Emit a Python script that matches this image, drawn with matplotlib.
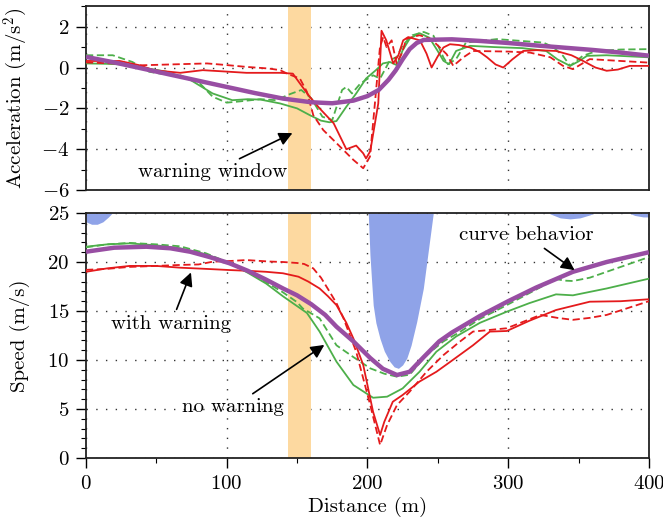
import numpy as np
import matplotlib
matplotlib.use('Agg')
import matplotlib.pyplot as plt
from matplotlib.ticker import MultipleLocator

plt.rcParams['font.family'] = 'serif'
plt.rcParams['font.serif'] = ['cmr10']
plt.rcParams['mathtext.fontset'] = 'cm'
plt.rcParams['axes.formatter.use_mathtext'] = True
plt.rcParams['font.size'] = 15

# acceleration traces (m/s^2) against distance (m)
acc_model_x = [0, 20, 40, 60, 80, 100, 120, 140, 160, 175, 190, 200, 208, 215, 220, 225, 230, 235, 240,
               260, 280, 300, 320, 340, 360, 380, 400]
acc_model = [0.52, 0.25, -0.05, -0.35, -0.65, -0.95, -1.25, -1.52, -1.7, -1.75, -1.62, -1.4, -1.1, -0.6,
             -0.15, 0.4, 0.9, 1.2, 1.35, 1.38, 1.3, 1.2, 1.08, 0.97, 0.86, 0.73, 0.58]

acc_green_x = [0, 15, 26, 40, 57, 74, 90, 104, 115, 124, 138, 150, 159, 167, 173, 178, 185, 192, 199, 206,
               211, 216, 221, 225, 230, 237, 244, 250, 254, 258, 263, 273, 290, 310, 327, 335, 344, 350, 356,
               370, 385, 400]
acc_green = [0.2, 0.18, 0.15, 0.0, -0.2, -0.6, -1.27, -1.6, -1.55, -1.57, -1.76, -2.0, -2.33, -2.6, -2.68,
             -2.62, -1.92, -1.27, -0.54, -0.13, 0.2, 0.27, 0.11, 0.84, 1.41, 1.68, 1.46, 0.8, 0.33, 0.16,
             0.81, 1.06, 1.0, 0.95, 0.81, 0.4, 0.08, 0.3, 0.57, 0.6, 0.55, 0.5]

acc_green_d_x = [0, 10, 19, 33, 45, 53, 67, 81, 90, 100, 109, 124, 135, 145, 153, 160, 168, 175, 182, 185,
                 189, 195, 204, 209, 216, 221, 225, 232, 240, 247, 254, 257, 263, 270, 292, 325, 332, 339,
                 344, 353, 363, 380, 400]
acc_green_d = [0.6, 0.6, 0.6, 0.27, -0.21, -0.3, -0.38, -0.78, -1.43, -1.72, -1.66, -1.55, -1.6, -1.3, -1.1,
               -1.5, -2.41, -2.57, -1.1, -0.95, -1.27, -0.78, -0.38, -0.54, 0.36, 0.52, 1.09, 1.58, 1.74,
               1.55, 0.49, 0.16, 0.41, 1.22, 1.39, 1.22, 1.0, 0.57, 0.08, 0.57, 0.81, 0.88, 0.9]

acc_red_x = [0, 24, 38, 48, 67, 83, 100, 114, 138, 147, 152, 159, 166, 176, 185, 192, 197, 199, 202, 207.7,
             210, 213.4, 218.3, 222, 225.4, 229, 237.3, 242, 245.6, 250, 254, 258.6, 265, 273, 280, 285, 291,
             296.5, 303, 310.7, 320, 334, 345, 353, 362, 370, 378, 386.5, 400]
acc_red = [0.32, 0.32, 0.11, -0.13, -0.26, -0.13, -0.2, -0.26, -0.26, -0.3, -0.78, -1.43, -2.0, -2.73, -4.0,
           -3.82, -4.2, -4.45, -4.1, -1.76, 1.8, 1.33, 0.2, 0.6, 1.33, 1.49, 1.33, 0.68, 0.0, 0.55, 0.98,
           1.14, 1.1, 0.98, 0.75, 0.5, 0.15, 0.0, 0.4, 0.81, 0.85, 0.81, 0.6, 0.33, 0.0, -0.16, -0.1, 0.08,
           0.08]

acc_red_d_x = [0, 20, 40, 60, 86, 100, 114, 130, 138, 143, 152, 157, 161.5, 168.6, 178, 190, 197, 201.8,
               205.3, 208.9, 211.2, 213.6, 217.2, 220.7, 224.3, 227.8, 237, 245, 251.5, 256.3, 261, 268, 275,
               300, 315.5, 330, 339, 346, 358, 380, 400]
acc_red_d = [0.25, 0.2, 0.11, 0.15, 0.2, 0.12, 0.03, -0.05, -0.13, -0.3, -0.54, -1.19, -2.33, -3.06, -3.7,
             -4.52, -4.93, -4.36, -1.76, 1.0, 1.49, 1.0, 1.33, 0.2, 0.68, 1.41, 1.58, 1.4, 0.98, 0.65, 0.08,
             0.49, 0.81, 0.78, 0.73, 0.5, 0.08, -0.08, 0.41, 0.32, 0.24]

# speed traces (m/s)
spd_model_x = [0, 20, 43, 60, 74, 88, 102, 115, 128, 140, 150, 160, 170, 178, 190, 202, 211, 221, 230, 240,
               251, 260, 280, 300, 320, 346, 370, 400]
spd_model = [21.05, 21.46, 21.56, 21.4, 21.05, 20.5, 19.87, 19.1, 18.2, 17.3, 16.6, 15.7, 14.6, 13.4, 11.9,
             10.2, 9.1, 8.47, 8.8, 10.3, 11.9, 12.8, 14.5, 16.0, 17.4, 19.0, 20.0, 21.0]

spd_green_x = [0, 15, 31, 50, 67, 85, 102, 115, 128, 140, 150, 157, 166, 178, 190, 204, 214, 225, 237, 249,
               263, 280, 299, 315, 334, 346, 370, 400]
spd_green = [21.56, 21.8, 21.9, 21.7, 21.4, 20.8, 19.9, 18.9, 17.8, 16.5, 15.5, 14.8, 12.9, 9.83, 7.45, 6.15,
             6.26, 7.1, 8.8, 10.85, 12.4, 13.8, 14.93, 15.8, 16.7, 16.6, 17.3, 18.3]

spd_green_d_x = [0, 15, 31, 50, 67, 85, 102, 115, 128, 140, 150, 154, 166, 178, 190, 202, 212, 221, 230, 242,
                 254, 265, 280, 299, 320, 334, 340, 346, 358, 370, 400]
spd_green_d = [21.5, 21.8, 21.95, 21.8, 21.6, 20.9, 19.9, 19.0, 17.95, 16.9, 15.9, 15.27, 14.25, 11.5, 10.3,
               9.15, 8.6, 8.3, 8.5, 10.5, 11.9, 12.8, 14.2, 15.6, 17.2, 18.27, 18.1, 18.06, 18.4, 19.0, 20.5]

spd_red_x = [0, 15, 31, 50, 67, 85, 102, 115, 128, 140, 151, 158, 166, 172, 178, 185, 190, 197, 204, 209,
             212, 218, 225, 237, 249, 259, 275, 287, 299, 315, 334, 358, 380, 400]
spd_red = [19.0, 19.35, 19.6, 19.6, 19.42, 19.3, 19.18, 19.1, 19.0, 18.85, 18.5, 18.0, 17.3, 16.5, 15.6, 13.8,
           12.2, 9.5, 4.72, 2.35, 3.7, 5.74, 6.43, 7.8, 8.8, 9.83, 11.5, 12.9, 12.96, 14.0, 15.1, 15.95, 16.0,
           16.2]

spd_red_d_x = [0, 15, 31, 50, 67, 80, 90, 102, 114, 130, 140, 150, 155, 161.5, 167, 173, 178, 183, 192, 202,
               209, 214, 221, 230, 242, 254, 265, 275, 299, 323, 335, 346, 358, 370, 400]
spd_red_d = [19.2, 19.3, 19.5, 19.6, 19.7, 19.75, 20.03, 20.1, 20.2, 20.05, 20.0, 19.9, 19.8, 19.35, 18.4,
             17.0, 15.8, 14.25, 10.85, 5.4, 1.33, 3.37, 5.4, 6.77, 8.8, 10.5, 11.8, 12.9, 13.24, 14.6, 14.3,
             14.1, 14.3, 14.6, 16.0]

# speed limit envelope; only the part below 25 m/s shows up as shading
lim_x = [0, 4, 8, 12, 16, 20, 30, 190, 200, 200.6, 201.8, 203, 204.1, 206, 208.9, 212, 216, 219, 222, 225,
         228, 231, 235, 239.7, 242, 244.4, 246.8, 260, 325, 330, 337, 344, 351, 358, 363, 375, 384, 390,
         396, 400]
lim_v = [24.1, 23.85, 23.85, 24.1, 24.6, 25.2, 27, 30, 26, 25.0, 20.7, 18.0, 15.6, 13.8, 12.2, 10.9, 9.83,
         9.3, 9.15, 9.5, 10.2, 11.5, 13.9, 17.3, 19.8, 22.4, 25.0, 30, 25.3, 24.9, 24.5, 24.4, 24.5, 24.8,
         25.1, 26, 25.1, 24.75, 24.6, 24.6]

warn_window = (143.5, 160)

purple = '#984ea3'
red = '#e41a1c'
green = '#4daf4a'
band = '#fdd9a0'
blue = '#8fa3e8'

fig = plt.figure(figsize=(6.63, 5.18), dpi=100)
ax1 = fig.add_axes([0.1297, 0.633, 0.849, 0.355])
ax2 = fig.add_axes([0.1297, 0.1158, 0.849, 0.473])

grid_kw = dict(color='#333333', linestyle=(0, (1, 6)), linewidth=1.0)

for ax in (ax1, ax2):
    ax.set_axisbelow(True)
    ax.axvspan(*warn_window, color=band, lw=0, zorder=1)
    ax.set_xlim(0, 400)
    ax.xaxis.set_major_locator(MultipleLocator(100))
    ax.xaxis.set_minor_locator(MultipleLocator(50))
    ax.yaxis.set_minor_locator(MultipleLocator(1))
    ax.tick_params(which='major', direction='out', length=7, width=1.0, pad=5)
    ax.tick_params(which='minor', direction='out', length=3.5, width=0.8)
    ax.grid(True, which='major', **grid_kw)
    for s in ax.spines.values():
        s.set_linewidth(1.3)
        s.set_color('#222222')

# top panel: acceleration
ax1.plot(acc_green_x, acc_green, color=green, lw=1.3, zorder=3)
ax1.plot(acc_green_d_x, acc_green_d, color=green, lw=1.3, ls=(0, (4, 2)), zorder=3)
ax1.plot(acc_red_x, acc_red, color=red, lw=1.3, zorder=3)
ax1.plot(acc_red_d_x, acc_red_d, color=red, lw=1.3, ls=(0, (4, 2)), zorder=3)
ax1.plot(acc_model_x, acc_model, color=purple, lw=3.2, zorder=4, solid_capstyle='butt')
ax1.set_ylim(-6, 3)
ax1.set_yticks([-6, -4, -2, 0, 2])
ax1.tick_params(axis='x', which='both', bottom=False, labelbottom=False)
ax1.set_ylabel('Acceleration (m/s$^2$)')
ax1.yaxis.set_label_coords(-0.1, 0.5)

arrow = dict(arrowstyle='-|>', color='black', lw=1.2, mutation_scale=20)
ax1.annotate('warning window', xy=(148.5, -3.15), xytext=(90, -5.1), ha='center', va='center',
             arrowprops=arrow, zorder=6)

# bottom panel: speed
ax2.fill_between(lim_x, lim_v, 25, color=blue, lw=0, zorder=2)
ax2.plot(spd_green_x, spd_green, color=green, lw=1.3, zorder=3)
ax2.plot(spd_green_d_x, spd_green_d, color=green, lw=1.3, ls=(0, (4, 2)), zorder=3)
ax2.plot(spd_red_x, spd_red, color=red, lw=1.3, zorder=3)
ax2.plot(spd_red_d_x, spd_red_d, color=red, lw=1.3, ls=(0, (4, 2)), zorder=3)
ax2.plot(spd_model_x, spd_model, color=purple, lw=3.2, zorder=4, solid_capstyle='butt')
ax2.set_ylim(0, 25)
ax2.set_yticks([0, 5, 10, 15, 20, 25])
ax2.set_ylabel('Speed (m/s)')
ax2.yaxis.set_label_coords(-0.1, 0.5)
ax2.set_xlabel('Distance (m)', labelpad=3)

ax2.annotate('with warning', xy=(75.3, 19.2), xytext=(60.4, 13.7), ha='center', va='center',
             arrowprops=arrow, zorder=6)
ax2.annotate('no warning', xy=(171, 11.7), xytext=(104.6, 5.2), ha='center', va='center',
             arrowprops=arrow, zorder=6)
ax2.annotate('curve behavior', xy=(348.8, 19.0), xytext=(312.6, 22.75), ha='center', va='center',
             arrowprops=arrow, zorder=6)

fig.savefig('out.png', dpi=100)
